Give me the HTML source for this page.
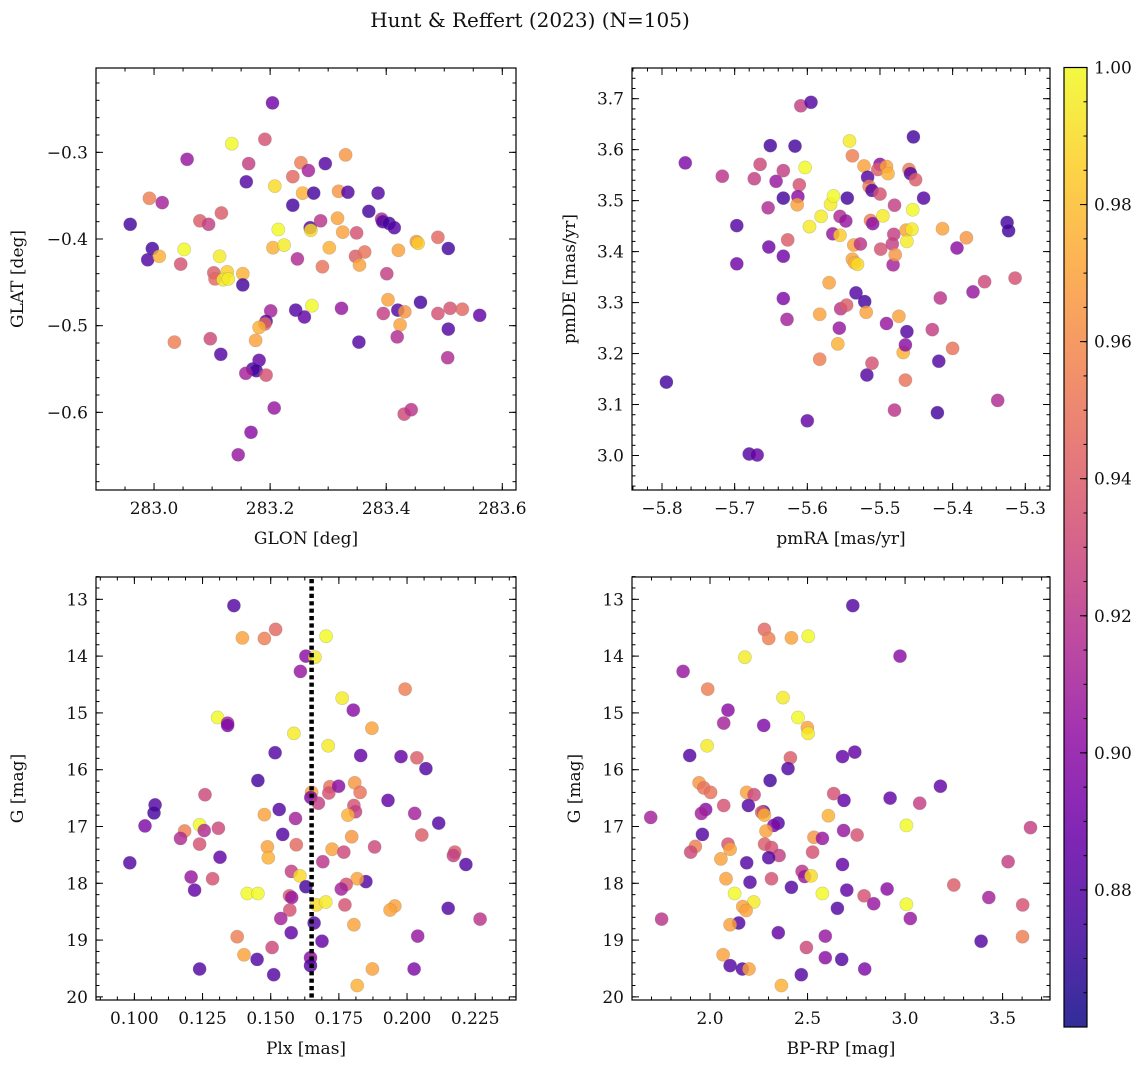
<!DOCTYPE html>
<html><head><meta charset="utf-8">
<style>
html,body{margin:0;padding:0;background:#fff;}
svg{display:block;font-family:"DejaVu Serif","Liberation Serif",serif;}
</style></head>
<body>
<svg id="fig" width="1148" height="1067" viewBox="0 0 1148 1067" xmlns="http://www.w3.org/2000/svg">
<text x="530" y="27" font-size="20" text-anchor="middle" fill="#111">Hunt &amp; Reffert (2023) (N=105)</text>
</svg>
<script>
// ---- data: panel 1 (galactic coords) ----
const glon=[283.204,283.134,283.191,283.057,283.163,283.253,283.266,283.295,283.330,283.159,283.239,283.208,283.256,283.275,283.318,283.334,283.386,282.992,283.014,283.239,283.116,283.370,282.959,283.079,283.094,283.214,283.269,283.270,283.287,283.316,283.325,283.349,283.392,283.394,283.405,283.414,283.489,283.452,283.455,283.507,282.997,282.989,283.009,283.052,283.046,283.113,283.205,283.224,283.247,283.302,283.347,283.363,283.354,283.421,283.290,283.401,283.103,283.105,283.126,283.119,283.128,283.153,283.153,283.403,283.459,283.272,283.201,283.244,283.259,283.323,283.395,283.420,283.432,283.489,283.510,283.531,283.561,283.193,283.191,283.181,283.424,283.507,283.175,283.035,283.097,283.353,283.419,283.115,283.506,283.181,283.170,283.176,283.158,283.193,283.207,283.431,283.443,283.167,283.145];
const glat=[-0.243,-0.290,-0.285,-0.308,-0.313,-0.312,-0.321,-0.313,-0.303,-0.334,-0.328,-0.339,-0.347,-0.347,-0.345,-0.346,-0.347,-0.353,-0.358,-0.361,-0.370,-0.368,-0.383,-0.379,-0.383,-0.389,-0.387,-0.390,-0.379,-0.376,-0.392,-0.393,-0.377,-0.380,-0.382,-0.387,-0.398,-0.403,-0.405,-0.411,-0.411,-0.424,-0.420,-0.412,-0.429,-0.420,-0.410,-0.407,-0.423,-0.410,-0.420,-0.415,-0.430,-0.413,-0.432,-0.440,-0.439,-0.446,-0.438,-0.447,-0.446,-0.440,-0.453,-0.470,-0.473,-0.477,-0.483,-0.482,-0.490,-0.480,-0.486,-0.482,-0.484,-0.486,-0.480,-0.481,-0.488,-0.495,-0.498,-0.502,-0.499,-0.504,-0.517,-0.519,-0.515,-0.519,-0.513,-0.533,-0.537,-0.540,-0.550,-0.552,-0.555,-0.557,-0.595,-0.602,-0.597,-0.623,-0.649];
const probGal=[0.89,1.0,0.935,0.905,0.925,0.955,0.91,0.88,0.965,0.88,0.945,0.99,0.975,0.875,0.965,0.88,0.88,0.955,0.91,0.875,0.94,0.875,0.875,0.94,0.925,1.0,0.88,0.99,0.92,0.97,0.97,0.935,0.915,0.88,0.875,0.88,0.945,0.965,0.985,0.875,0.875,0.88,0.975,1.0,0.935,0.995,0.975,0.995,0.915,0.975,0.94,0.95,0.97,0.97,0.95,0.925,0.94,0.945,0.985,0.995,0.995,0.975,0.875,0.97,0.875,1.0,0.91,0.88,0.885,0.905,0.925,0.88,0.965,0.935,0.935,0.945,0.885,0.88,0.945,0.975,0.97,0.88,0.97,0.955,0.93,0.88,0.915,0.88,0.915,0.885,0.88,0.875,0.91,0.935,0.905,0.93,0.92,0.9,0.905];
// ---- data: panel 2 (proper motions) ----
const pmra=[-5.794,-5.768,-5.717,-5.697,-5.697,-5.680,-5.669,-5.673,-5.665,-5.654,-5.653,-5.651,-5.643,-5.633,-5.633,-5.633,-5.633,-5.628,-5.627,-5.617,-5.611,-5.613,-5.614,-5.609,-5.595,-5.603,-5.600,-5.597,-5.583,-5.583,-5.581,-5.570,-5.568,-5.564,-5.565,-5.555,-5.555,-5.547,-5.558,-5.554,-5.556,-5.546,-5.545,-5.542,-5.538,-5.538,-5.535,-5.531,-5.536,-5.527,-5.533,-5.521,-5.519,-5.518,-5.522,-5.517,-5.515,-5.511,-5.513,-5.510,-5.511,-5.500,-5.503,-5.500,-5.499,-5.496,-5.491,-5.491,-5.489,-5.483,-5.481,-5.480,-5.482,-5.479,-5.480,-5.474,-5.468,-5.465,-5.463,-5.465,-5.464,-5.463,-5.456,-5.455,-5.460,-5.458,-5.451,-5.454,-5.440,-5.428,-5.419,-5.421,-5.417,-5.414,-5.400,-5.394,-5.381,-5.372,-5.356,-5.338,-5.325,-5.323,-5.314];
const pmde=[3.144,3.574,3.548,3.451,3.376,3.003,3.001,3.543,3.571,3.486,3.409,3.608,3.538,3.559,3.505,3.391,3.308,3.267,3.423,3.607,3.531,3.508,3.492,3.686,3.693,3.565,3.068,3.449,3.189,3.277,3.469,3.339,3.493,3.509,3.435,3.432,3.469,3.460,3.219,3.288,3.250,3.295,3.505,3.617,3.588,3.385,3.378,3.375,3.413,3.415,3.319,3.302,3.281,3.158,3.568,3.546,3.528,3.520,3.461,3.455,3.181,3.571,3.561,3.513,3.405,3.470,3.259,3.567,3.553,3.415,3.434,3.491,3.374,3.394,3.089,3.273,3.202,3.217,3.243,3.148,3.442,3.420,3.444,3.482,3.561,3.553,3.541,3.625,3.505,3.247,3.185,3.084,3.309,3.445,3.210,3.407,3.427,3.321,3.341,3.108,3.457,3.441,3.348];
const probPm=[0.875,0.895,0.92,0.88,0.89,0.88,0.885,0.925,0.93,0.915,0.89,0.875,0.905,0.925,0.875,0.89,0.895,0.91,0.94,0.875,0.935,0.9,0.97,0.925,0.88,1.0,0.885,0.995,0.955,0.97,0.995,0.97,0.995,1.0,0.905,0.985,0.915,0.905,0.975,0.92,0.905,0.94,0.875,0.995,0.955,0.97,0.975,0.99,0.97,0.92,0.88,0.875,0.97,0.88,0.97,0.88,0.955,0.88,0.955,0.9,0.935,0.9,0.94,0.935,0.935,0.995,0.905,0.97,0.975,0.925,0.925,0.925,0.91,0.965,0.92,0.97,0.975,0.9,0.88,0.95,0.97,0.995,0.995,1.0,0.955,0.88,0.94,0.875,0.88,0.925,0.88,0.875,0.92,0.97,0.95,0.9,0.965,0.905,0.93,0.915,0.875,0.875,0.935];
// ---- data: panel 3 (parallax vs G) ----
const plx=[0.1365,0.1396,0.1477,0.1518,0.1703,0.1629,0.1662,0.1609,0.1993,0.1762,0.1803,0.1305,0.1342,0.1342,0.1871,0.1585,0.1711,0.1516,0.1830,0.1978,0.2036,0.2069,0.1453,0.1259,0.1650,0.1647,0.1675,0.1717,0.1713,0.1749,0.1808,0.1828,0.1930,0.1076,0.1072,0.1039,0.1531,0.1477,0.1591,0.1805,0.1811,0.1783,0.2028,0.2116,0.1239,0.1184,0.1169,0.1256,0.1308,0.1239,0.1544,0.1488,0.1594,0.1797,0.1725,0.1768,0.1881,0.2054,0.2175,0.2170,0.2216,0.0983,0.1314,0.1491,0.1691,0.1576,0.1607,0.1208,0.1287,0.1221,0.1414,0.1453,0.1629,0.1849,0.1817,0.1777,0.1759,0.1569,0.1577,0.1668,0.1702,0.1772,0.1955,0.1938,0.2151,0.2268,0.1570,0.1537,0.1659,0.1805,0.1575,0.1377,0.2039,0.1688,0.1505,0.1402,0.1450,0.1646,0.1646,0.1239,0.1511,0.1873,0.2026,0.1817];
const gPlx=[13.11,13.68,13.69,13.53,13.65,14.00,14.02,14.27,14.58,14.74,14.95,15.08,15.18,15.22,15.27,15.36,15.58,15.70,15.75,15.77,15.79,15.98,16.19,16.44,16.40,16.49,16.59,16.30,16.41,16.29,16.23,16.40,16.54,16.62,16.76,16.99,16.70,16.79,16.86,16.63,16.74,16.80,16.77,16.94,16.97,17.08,17.21,17.07,17.03,17.31,17.14,17.36,17.32,17.18,17.40,17.45,17.36,17.15,17.45,17.51,17.67,17.64,17.54,17.55,17.62,17.79,17.87,17.89,17.92,18.12,18.18,18.18,18.06,17.97,17.92,18.02,18.10,18.22,18.25,18.38,18.33,18.38,18.40,18.47,18.44,18.63,18.47,18.62,18.70,18.73,18.87,18.94,18.93,19.02,19.13,19.26,19.34,19.31,19.45,19.51,19.61,19.51,19.51,19.80];
const probPlx=[0.88,0.97,0.955,0.945,1.0,0.9,0.995,0.905,0.955,0.995,0.9,1.0,0.91,0.895,0.97,0.995,0.995,0.88,0.885,0.885,0.94,0.88,0.875,0.93,0.97,0.895,0.925,0.95,0.935,0.9,0.965,0.95,0.885,0.88,0.875,0.895,0.88,0.97,0.91,0.935,0.925,0.975,0.91,0.88,1.0,0.955,0.915,0.915,0.93,0.935,0.88,0.97,0.945,0.965,0.97,0.93,0.93,0.94,0.94,0.925,0.88,0.88,0.885,0.975,0.92,0.925,0.99,0.905,0.935,0.885,1.0,1.0,0.875,0.88,0.97,0.935,0.91,0.94,0.905,0.99,0.995,0.935,0.97,0.97,0.88,0.92,0.935,0.91,0.88,0.97,0.885,0.955,0.905,0.885,0.93,0.97,0.88,0.9,0.88,0.88,0.88,0.97,0.895,0.975];
const plxRef=[0.165];
// ---- data: panel 4 (CMD) ----
const bprp=[2.732,2.279,2.301,2.417,2.504,2.179,2.974,1.862,1.988,2.374,2.092,2.070,2.275,2.451,2.499,2.503,1.985,1.896,2.679,2.742,2.412,2.400,2.308,1.944,1.968,2.003,2.188,2.226,2.197,2.070,2.634,2.687,2.923,3.181,3.075,1.978,1.956,1.696,2.274,2.265,2.279,2.349,2.327,2.607,3.007,3.643,1.961,2.287,2.685,2.754,2.533,2.576,2.092,2.103,1.925,1.901,2.056,2.280,2.315,2.354,2.301,2.526,2.188,2.679,3.528,2.082,2.205,2.315,2.472,2.485,2.518,2.417,3.250,2.126,2.576,2.701,2.790,2.839,2.908,3.429,2.224,2.168,2.185,2.653,3.007,3.603,1.752,2.147,2.103,3.027,2.350,2.591,3.390,3.602,2.494,2.067,2.103,2.591,2.675,2.166,2.200,2.793,2.468,2.366];
const gCmd=[13.11,13.53,13.69,13.68,13.65,14.02,14.00,14.27,14.58,14.73,14.95,15.18,15.22,15.08,15.26,15.36,15.58,15.75,15.77,15.69,15.79,15.98,16.19,16.23,16.32,16.40,16.40,16.44,16.63,16.63,16.42,16.54,16.50,16.29,16.59,16.70,16.77,16.84,16.74,16.75,16.80,16.94,16.98,16.81,16.98,17.02,17.14,17.08,17.07,17.15,17.19,17.21,17.31,17.40,17.35,17.45,17.57,17.31,17.37,17.51,17.55,17.45,17.64,17.67,17.62,17.92,17.98,17.92,17.79,17.88,17.87,18.07,18.03,18.18,18.18,18.12,18.22,18.36,18.10,18.25,18.33,18.41,18.48,18.44,18.37,18.38,18.63,18.70,18.73,18.62,18.87,18.93,19.02,18.94,19.13,19.26,19.45,19.31,19.34,19.51,19.51,19.51,19.61,19.80];
const probCmd=[0.88,0.945,0.955,0.97,1.0,0.995,0.9,0.905,0.955,0.995,0.9,0.91,0.895,1.0,0.97,0.995,0.995,0.88,0.885,0.885,0.94,0.88,0.875,0.965,0.95,0.95,0.97,0.93,0.88,0.935,0.935,0.885,0.885,0.885,0.925,0.9,0.91,0.91,0.88,0.94,0.975,0.88,0.895,0.975,1.0,0.925,0.88,0.97,0.905,0.935,0.965,0.905,0.935,0.97,0.955,0.93,0.97,0.94,0.935,0.925,0.88,0.935,0.88,0.885,0.925,0.97,0.88,0.935,0.92,0.905,0.99,0.88,0.94,1.0,1.0,0.885,0.935,0.905,0.9,0.91,0.995,0.97,0.97,0.88,1.0,0.935,0.92,0.88,0.97,0.905,0.885,0.905,0.88,0.955,0.93,0.97,0.88,0.9,0.88,0.88,0.97,0.895,0.88,0.975];
// ---- colorbar ----
const cbTicks=[0.88,0.90,0.92,0.94,0.96,0.98,1.00];
const cbMin=0.86, cbMax=1.0;

const NS="http://www.w3.org/2000/svg";
const svg=document.getElementById('fig');
function mk(tag,attrs,parent){const e=document.createElementNS(NS,tag);for(const k in attrs)e.setAttribute(k,attrs[k]);(parent||svg).appendChild(e);return e;}
const stops=["#0d0887","#41049d","#6a00a8","#8f0da4","#b12a90","#cc4778","#e16462","#f2844b","#fca636","#fcce25","#f0f921"];
function hex(h){return [parseInt(h.slice(1,3),16),parseInt(h.slice(3,5),16),parseInt(h.slice(5,7),16)];}
function plasma(t){t=Math.max(0,Math.min(1,t));const f=t*10,i=Math.min(9,Math.floor(f)),u=f-i;const a=hex(stops[i]),b=hex(stops[i+1]);return `rgb(${a.map((v,k)=>Math.round(v+(b[k]-v)*u)).join(',')})`;}
function cmap(v){return plasma((v-cbMin)/(cbMax-cbMin));}
function fmt(v,d){const s=Math.abs(v).toFixed(d);return (v<-1e-9?"\u2212":"")+s;}

function panel(o){
  const g=mk('g',{});
  
  
  const sx=v=>o.x0+(v-o.xd[0])/(o.xd[1]-o.xd[0])*(o.x1-o.x0);
  const sy=v=>o.yb+(v-o.yd[0])/(o.yd[1]-o.yd[0])*(o.yt-o.yb);
  const top=Math.min(o.yb,o.yt), bot=Math.max(o.yb,o.yt);
  const pts=mk('g',{},g);
  
  
  for(let i=0;i<o.xs.length;i++){
    const c=mk('circle',{cx:sx(o.xs[i]).toFixed(1),cy:sy(o.ys[i]).toFixed(1),r:6.6,fill:cmap(o.cs[i]),'fill-opacity':0.82,stroke:'#7a7a7a','stroke-opacity':0.35,'stroke-width':0.6},pts);
    
    
  }
  if(o.extra)o.extra(g,sx,sy,top,bot);
  const tk=mk('g',{stroke:'#000','stroke-width':1},g);
  function tX(v,len){const x=sx(v);if(x<o.x0-0.5||x>o.x1+0.5)return;mk('line',{x1:x,x2:x,y1:bot,y2:bot-len},tk);mk('line',{x1:x,x2:x,y1:top,y2:top+len},tk);}
  function tY(v,len){const y=sy(v);if(y<top-0.5||y>bot+0.5)return;mk('line',{x1:o.x0,x2:o.x0+len,y1:y,y2:y},tk);mk('line',{x1:o.x1,x2:o.x1-len,y1:y,y2:y},tk);}
  for(let k=0;k<=200;k++){const v=o.xminor[0]+k*o.xminor[1];if(v>o.xminor[2]+1e-9)break;tX(v,3.5);}
  for(let k=0;k<=200;k++){const v=o.yminor[0]+k*o.yminor[1];if(v>o.yminor[2]+1e-9)break;tY(v,3.5);}
  for(const v of o.xticks){tX(v,7);
    const t=mk('text',{x:sx(v),y:bot+24,'font-size':17,'text-anchor':'middle',fill:'#111'},g);t.textContent=fmt(v,o.xdp);
    
    }
  for(const v of o.yticks){tY(v,7);
    const t=mk('text',{x:o.x0-8,y:sy(v)+6,'font-size':17,'text-anchor':'end',fill:'#111'},g);t.textContent=fmt(v,o.ydp);
    
    }
  const fr=mk('rect',{x:o.x0,y:top,width:o.x1-o.x0,height:bot-top,fill:'none',stroke:'#000','stroke-width':1.2},g);
  
  
  const xl=mk('text',{x:(o.x0+o.x1)/2,y:bot+54,'font-size':17,'text-anchor':'middle',fill:'#111'},g);xl.textContent=o.xlabel;
  
  
  const yx=o.ylx, yy=(top+bot)/2;
  const yl=mk('text',{x:yx,y:yy,'font-size':17,'text-anchor':'middle',fill:'#111',transform:`rotate(-90 ${yx} ${yy})`},g);yl.textContent=o.ylabel;
  
  
}

panel({name:'galactic-panel',x0:96,x1:516,yb:490,yt:68,xd:[282.9,283.6236],yd:[-0.6896,-0.2027],xs:glon,ys:glat,cs:probGal,
  xticks:[283.0,283.2,283.4,283.6],xdp:1,yticks:[-0.3,-0.4,-0.5,-0.6],ydp:1,xminor:[282.9,0.05,283.65],yminor:[-0.68,0.02,-0.2],
  xlabel:'GLON [deg]',ylabel:'GLAT [deg]',ylx:23});
panel({name:'proper-motion-panel',x0:632,x1:1050,yb:490,yt:68,xd:[-5.8413,-5.266],yd:[2.9323,3.7602],xs:pmra,ys:pmde,cs:probPm,
  xticks:[-5.8,-5.7,-5.6,-5.5,-5.4,-5.3],xdp:1,yticks:[3.0,3.1,3.2,3.3,3.4,3.5,3.6,3.7],ydp:1,xminor:[-5.84,0.02,-5.26],yminor:[2.94,0.02,3.76],
  xlabel:'pmRA [mas/yr]',ylabel:'pmDE [mas/yr]',ylx:575});
panel({name:'parallax-panel',x0:96,x1:516,yb:1000,yt:577,xd:[0.08592,0.23996],yd:[20.055,12.607],xs:plx,ys:gPlx,cs:probPlx,
  xticks:[0.100,0.125,0.150,0.175,0.200,0.225],xdp:3,yticks:[13,14,15,16,17,18,19,20],ydp:0,xminor:[0.0875,0.00625,0.2375],yminor:[12.6,0.2,20.05],
  xlabel:'Plx [mas]',ylabel:'G [mag]',ylx:23,
  extra:(g,sx,sy,top,bot)=>{for(const v of plxRef){const l=mk('line',{x1:sx(v),x2:sx(v),y1:top+2,y2:bot,stroke:'#000','stroke-width':4.5,'stroke-dasharray':'4.2 3.2'},g);
    
    }}});
panel({name:'cmd-panel',x0:632,x1:1050,yb:1000,yt:577,xd:[1.600,3.743],yd:[20.055,12.607],xs:bprp,ys:gCmd,cs:probCmd,
  xticks:[2.0,2.5,3.0,3.5],xdp:1,yticks:[13,14,15,16,17,18,19,20],ydp:0,xminor:[1.6,0.1,3.7],yminor:[12.6,0.2,20.05],
  xlabel:'BP-RP [mag]',ylabel:'G [mag]',ylx:580});

(function(){
  const x0=1064,x1=1087,yT=67.5,yB=1027;
  const cy=v=>yB+(v-cbMin)/(cbMax-cbMin)*(yT-yB);
  const defs=mk('defs',{});
  const lg=mk('linearGradient',{id:'cbg',x1:0,y1:1,x2:0,y2:0},defs);
  for(let k=0;k<=20;k++){const t=k/20;mk('stop',{offset:t,'stop-color':plasma(t),'stop-opacity':0.85},lg);}
  const g=mk('g',{});
  
  
  mk('rect',{x:x0,y:yT,width:x1-x0,height:yB-yT,fill:'url(#cbg)',stroke:'#000','stroke-width':1.2},g);
  for(let v=0.865;v<=1.0001;v+=0.005){mk('line',{x1:x1,x2:x1-3.5,y1:cy(v),y2:cy(v),stroke:'#000','stroke-width':1},g);}
  for(const v of cbTicks){const y=cy(v);mk('line',{x1:x1,x2:x1-7,y1:y,y2:y,stroke:'#000','stroke-width':1},g);
    const t=mk('text',{x:1094,y:y+6,'font-size':17,fill:'#111'},g);t.textContent=v.toFixed(2);
    
    }
})();
</script>
</body></html>
